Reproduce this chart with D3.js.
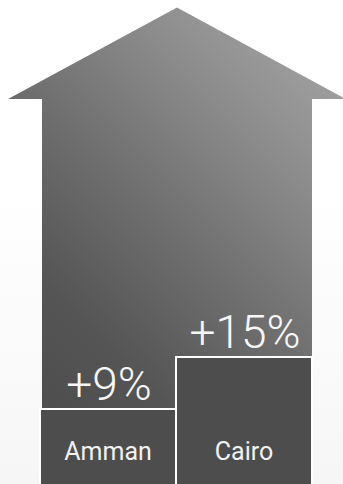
<!DOCTYPE html>
<html>
<head>
<meta charset="utf-8">
<script src="https://cdn.jsdelivr.net/npm/d3@7"></script>
<style>
    html, body { margin: 0; padding: 0; background: #fff; }
    svg { display: block; }
</style>
</head>
<body>
<div id="chart"></div>
<script>
'use strict';

var cities = ['Amman', 'Cairo'];
var growth = [9, 15];
var growthLabels = ['+9%', '+15%'];

var width = 343;
var height = 484;

var svg = d3.select('#chart').append('svg')
    .attr('width', width)
    .attr('height', height);

var defs = svg.append('defs');

var arrowGrad = defs.append('linearGradient')
    .attr('id', 'arrowGrad')
    .attr('gradientUnits', 'userSpaceOnUse')
    .attr('x1', 0).attr('y1', height)
    .attr('x2', 413).attr('y2', 71);
[[0, '#474747'], [0.3, '#555555'], [0.5, '#6d6d6d'], [0.75, '#8e8e8e'], [1, '#ababab']].forEach(function(s) {
    arrowGrad.append('stop').attr('offset', s[0]).attr('stop-color', s[1]);
});

var bgGrad = defs.append('linearGradient')
    .attr('id', 'bgGrad')
    .attr('x1', 0).attr('y1', 0)
    .attr('x2', 0).attr('y2', 1);
bgGrad.append('stop').attr('offset', 0).attr('stop-color', '#ffffff');
bgGrad.append('stop').attr('offset', 0.4).attr('stop-color', '#ffffff');
bgGrad.append('stop').attr('offset', 1).attr('stop-color', '#f6f6f6');

svg.append('rect')
    .attr('width', width)
    .attr('height', height)
    .attr('fill', 'url(#bgGrad)');

var x = d3.scaleBand()
    .domain(cities)
    .range([40, 312])
    .paddingInner(0)
    .paddingOuter(0);

var y = d3.scaleLinear()
    .domain([0, 15])
    .range([487, 357]);

// the big arrow behind the bars
var shaftLeft = x.range()[0] + 2;
var shaftRight = x.range()[1];
var mid = (shaftLeft + shaftRight) / 2;
var headY = 99;
var headHalf = 169;
var arrowPath = d3.path();
arrowPath.moveTo(shaftLeft, height + 5);
arrowPath.lineTo(shaftLeft, headY);
arrowPath.lineTo(mid - headHalf, headY);
arrowPath.lineTo(mid, 7.5);
arrowPath.lineTo(mid + headHalf, headY);
arrowPath.lineTo(shaftRight, headY);
arrowPath.lineTo(shaftRight, height + 5);
arrowPath.closePath();

svg.append('path')
    .attr('d', arrowPath.toString())
    .attr('fill', 'url(#arrowGrad)');

var bars = svg.selectAll('g.bar')
    .data(cities)
    .enter().append('g')
    .attr('class', 'bar');

bars.append('rect')
    .attr('x', function(d) { return x(d); })
    .attr('y', function(d, i) { return y(growth[i]); })
    .attr('width', x.bandwidth())
    .attr('height', function(d, i) { return y(0) - y(growth[i]) + 10; })
    .style('fill', '#4d4d4d')
    .style('stroke', '#ffffff')
    .style('stroke-width', 2);

bars.append('text')
    .attr('x', function(d) { return x(d) + x.bandwidth() / 2; })
    .attr('y', 460)
    .attr('text-anchor', 'middle')
    .style('font-family', 'Roboto, sans-serif')
    .style('font-size', '25px')
    .style('fill', '#f2f2f2')
    .text(function(d) { return d; });

bars.append('text')
    .attr('x', function(d) { return x(d) + x.bandwidth() / 2 + 1; })
    .attr('y', function(d, i) { return y(growth[i]) - 9; })
    .attr('text-anchor', 'middle')
    .style('font-family', 'Roboto, sans-serif')
    .style('font-weight', 300)
    .style('font-size', '46px')
    .style('fill', '#f7f7f7')
    .text(function(d, i) { return growthLabels[i]; });
</script>
</body>
</html>
